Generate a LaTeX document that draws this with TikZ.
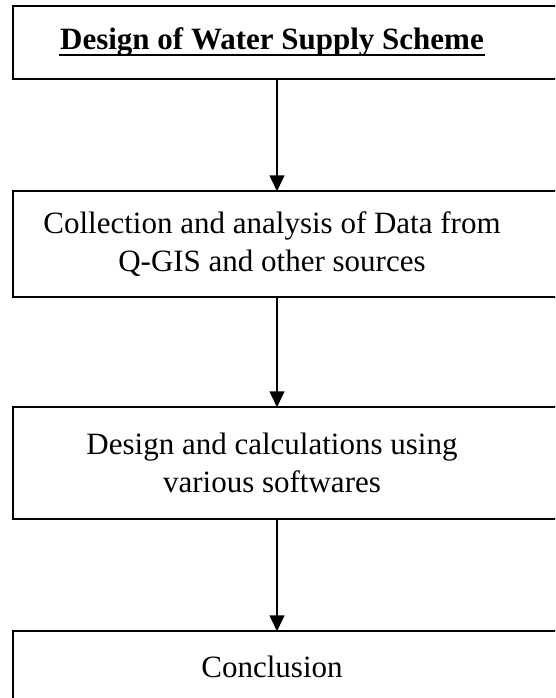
\documentclass[tikz,border=0pt]{standalone}
\usepackage{fontspec}
\setmainfont{Liberation Serif}
\usetikzlibrary{arrows.meta}

\tikzset{every picture/.style={line width=1.5pt}}
\tikzset{
  stage/.style={inner sep=0pt, align=center, font=\fontsize{31}{38}\selectfont},
  frame/.style={draw, line width=2pt},
  flow/.style={-{Triangle[width=15pt,length=16pt]}, line width=1.5pt}
}

\begin{document}
\begin{tikzpicture}[x=1pt,y=1pt,yscale=-1,xscale=1]
  \useasboundingbox (0,0) rectangle (555,698);
  \clip (0,0) rectangle (555,698);

  % left and right edge of the frames, and the line of the arrows
  \coordinate (edgeL) at (13,0);
  \coordinate (edgeR) at (570,0);
  \coordinate (spine) at (277,0);

  % steps
  \node[stage, minimum height=71] (title) at (272,42.5) {\textbf{Design of Water Supply Scheme}};
  \node[stage, minimum height=104] (collect) at (272,244) {Collection and analysis of Data from\\Q-GIS and other sources};
  \node[stage, minimum height=110] (calc) at (272,463) {Design and calculations using\\various softwares};
  \node[stage, minimum height=70] (concl) at (272,667) {Conclusion};

  % frames
  \foreach \s in {title,collect,calc,concl}
    \draw[frame] (edgeL |- \s.north) rectangle (edgeR |- \s.south);

  % underline of the heading
  \draw[line width=2pt] ([yshift=5pt]title.base west) -- ([yshift=5pt]title.base east);

  % arrows
  \draw[flow] (title.south -| spine) -- (collect.north -| spine);
  \draw[flow] (collect.south -| spine) -- (calc.north -| spine);
  \draw[flow] (calc.south -| spine) -- (concl.north -| spine);
\end{tikzpicture}
\end{document}
